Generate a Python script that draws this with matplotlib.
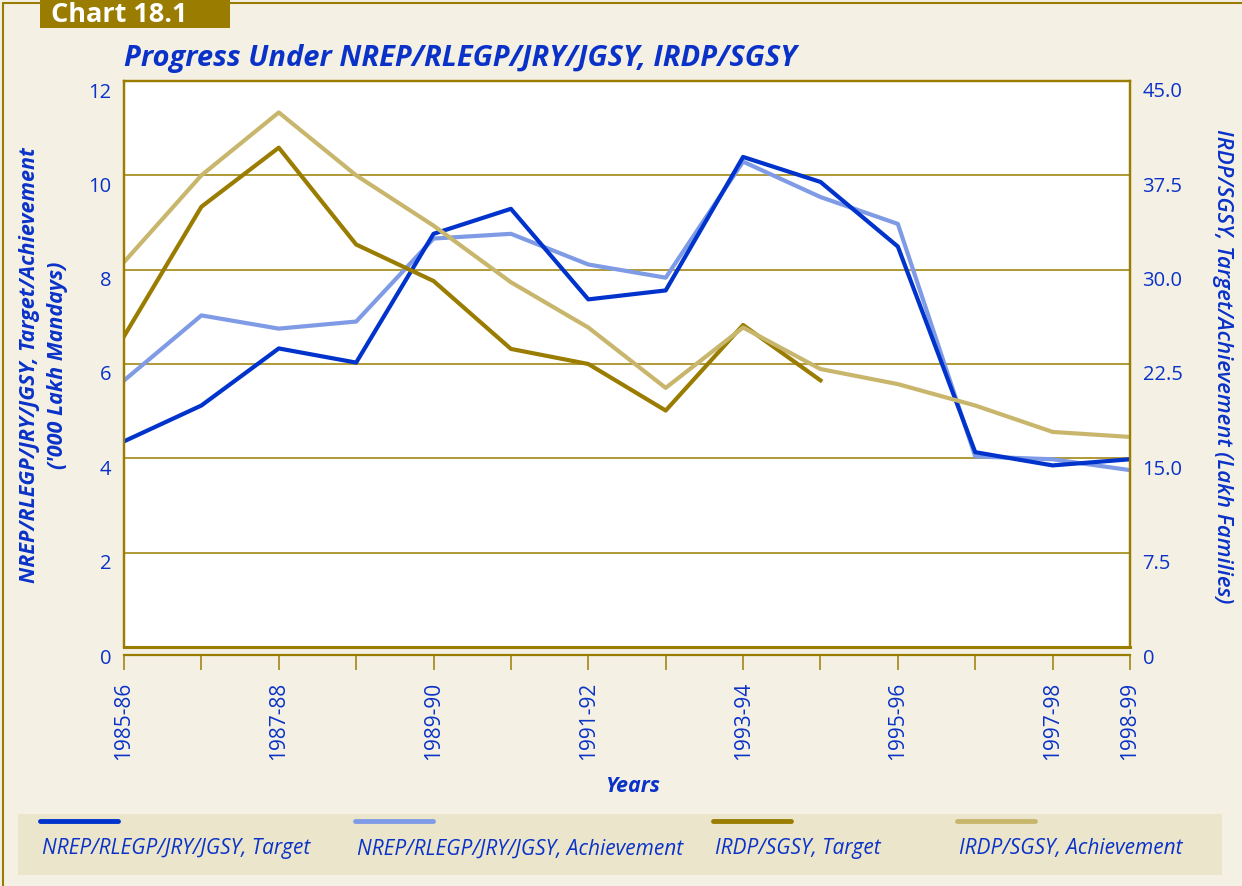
"""Chart 18.1: progress under NREP/RLEGP/JRY/JGSY and IRDP/SGSY (dual axis lines)."""

import matplotlib

matplotlib.use("Agg")
import matplotlib.pyplot as plt
from matplotlib.lines import Line2D
from matplotlib.patches import Rectangle
from matplotlib.transforms import ScaledTranslation

plt.rcParams["font.family"] = ["Open Sans", "DejaVu Sans"]

YEARS = [
    "1985-86", "1986-87", "1987-88", "1988-89", "1989-90", "1990-91", "1991-92",
    "1992-93", "1993-94", "1994-95", "1995-96", "1996-97", "1997-98", "1998-99",
]
SHOWN_YEARS = ["1985-86", "1987-88", "1989-90", "1991-92", "1993-94", "1995-96", "1997-98", "1998-99"]

# '000 lakh mandays (left axis)
nrep_target = [4.36, 5.12, 6.33, 6.03, 8.76, 9.29, 7.37, 7.56, 10.39, 9.86, 8.49, 4.13, 3.85, 3.98]
nrep_achievement = [5.65, 7.03, 6.75, 6.90, 8.66, 8.76, 8.11, 7.83, 10.29, 9.54, 8.97, 4.04, 3.98, 3.75]
# lakh families (right axis)
irdp_target = [24.7, 35.0, 39.7, 32.0, 29.1, 23.7, 22.5, 18.8, 25.6, 21.2]
irdp_achievement = [30.6, 37.5, 42.5, 37.5, 33.5, 29.0, 25.4, 20.6, 25.4, 22.1, 20.9, 19.2, 17.1, 16.7]

LEFT_TICKS = [0, 2, 4, 6, 8, 10, 12]
RIGHT_TICKS = [0, 7.5, 15.0, 22.5, 30.0, 37.5, 45.0]

SERIES_LABELS = [
    "NREP/RLEGP/JRY/JGSY, Target",
    "NREP/RLEGP/JRY/JGSY, Achievement",
    "IRDP/SGSY, Target",
    "IRDP/SGSY, Achievement",
]

DARK_BLUE = "#0033cc"
LIGHT_BLUE = "#7f9be6"
DARK_GOLD = "#9a7d00"
LIGHT_GOLD = "#c8b66c"
BG = "#f4f1e4"
LEGEND_BG = "#ebe5cc"
TEXT_BLUE = "#0a32c8"
SERIES_COLORS = [DARK_BLUE, LIGHT_BLUE, DARK_GOLD, LIGHT_GOLD]

W, H, DPI = 1242, 887, 100
fig = plt.figure(figsize=(W / DPI, H / DPI), dpi=DPI)
fig.patch.set_facecolor(BG)


def fx(px):
    return px / W


def fy(py):
    return 1 - py / H


# outer gold frame and "Chart 18.1" tab
fig.add_artist(Rectangle((fx(3), -0.1), 1.2, fy(4) + 0.1, transform=fig.transFigure,
                         facecolor="none", edgecolor=DARK_GOLD, lw=1.5))
fig.add_artist(Rectangle((fx(40), fy(29)), fx(190), 29 / H, transform=fig.transFigure,
                         facecolor=DARK_GOLD, edgecolor="none"))
fig.text(fx(51), fy(15.5), "Chart 18.1", color="white", fontsize=19.5, fontweight="bold",
         ha="left", va="center")
fig.text(fx(124), fy(58.5), "Progress Under NREP/RLEGP/JRY/JGSY, IRDP/SGSY", color=TEXT_BLUE,
         fontsize=21, fontweight="bold", style="italic", ha="left", va="center")

ax = fig.add_axes([fx(124), fy(648), fx(1130 - 124), (648 - 82) / H])
ax2 = ax.twinx()
ax.set_facecolor("white")

x = list(range(len(YEARS)))
ax.plot(x, nrep_achievement, color=LIGHT_BLUE, lw=3, label=SERIES_LABELS[1], zorder=3)
ax.plot(x, nrep_target, color=DARK_BLUE, lw=3, label=SERIES_LABELS[0], zorder=4)
ax2.plot(x[:len(irdp_target)], irdp_target, color=DARK_GOLD, lw=3, label=SERIES_LABELS[2])
ax2.plot(x, irdp_achievement, color=LIGHT_GOLD, lw=3, label=SERIES_LABELS[3])

ax.set_xlim(0, len(YEARS) - 1)
ax.set_ylim(0, 12)
ax2.set_ylim(0, 45)

ax.set_yticks(LEFT_TICKS)
ax.set_yticklabels([f"{v:g}" for v in LEFT_TICKS])
ax2.set_yticks(RIGHT_TICKS)
ax2.set_yticklabels(["0" if v == 0 else f"{v:.1f}" for v in RIGHT_TICKS])
ax.grid(True, axis="y", color=DARK_GOLD, lw=1.1, zorder=0)
ax.set_axisbelow(True)

ax.set_xticks(x)
ax.set_xticklabels([y if y in SHOWN_YEARS else "" for y in YEARS])

for a in (ax, ax2):
    for side in ("left", "right", "top"):
        a.spines[side].set_color(DARK_GOLD)
        a.spines[side].set_linewidth(1.6)
ax2.spines["bottom"].set_visible(False)
ax.spines["bottom"].set_position(("outward", 6))
ax.spines["bottom"].set_color(DARK_GOLD)
ax.spines["bottom"].set_linewidth(1.6)
ax.axhline(0, color=DARK_GOLD, lw=2.2, clip_on=False, zorder=5)

ax.tick_params(axis="x", direction="out", length=10.5, width=1.1, color=DARK_GOLD,
               labelcolor=TEXT_BLUE, labelsize=15, labelrotation=90, pad=8)
ax.tick_params(axis="y", length=0, labelcolor=TEXT_BLUE, labelsize=14.5, pad=9)
ax2.tick_params(axis="y", length=0, labelcolor=TEXT_BLUE, labelsize=14.5, pad=9)

# tick labels sit a little below their gridlines in the original
shift = ScaledTranslation(0, -8 / DPI, fig.dpi_scale_trans)
for lab in ax.get_yticklabels() + ax2.get_yticklabels():
    lab.set_transform(lab.get_transform() + shift)

fig.text(fx(30), fy(365), "NREP/RLEGP/JRY/JGSY, Target/Achievement", rotation=90,
         color=TEXT_BLUE, fontsize=15.5, fontweight="bold", style="italic", ha="center", va="center")
fig.text(fx(57), fy(365), "('000 Lakh Mandays)", rotation=90,
         color=TEXT_BLUE, fontsize=15.5, fontweight="bold", style="italic", ha="center", va="center")
fig.text(fx(1222), fy(366), "IRDP/SGSY, Target/Achievement (Lakh Families)", rotation=270,
         color=TEXT_BLUE, fontsize=16, fontweight="semibold", style="italic", ha="center", va="center")
fig.text(fx(632), fy(787), "Years", color=TEXT_BLUE, fontsize=15.5, fontweight="bold",
         style="italic", ha="center", va="center")

# legend strip: swatch above each label
fig.add_artist(Rectangle((fx(18), fy(876)), fx(1222 - 18), (876 - 815) / H,
                         transform=fig.transFigure, facecolor=LEGEND_BG, edgecolor="none"))
legend_x = [40, 355, 713, 957]
for px, lab, col in zip(legend_x, SERIES_LABELS, SERIES_COLORS):
    fig.add_artist(Line2D([fx(px), fx(px + 78)], [fy(822), fy(822)], transform=fig.transFigure,
                          color=col, lw=3.5, solid_capstyle="round"))
    fig.text(fx(px + 2), fy(849), lab, color=TEXT_BLUE, fontsize=15, style="italic",
             ha="left", va="center")

fig.savefig("out.png", dpi=DPI, facecolor=fig.get_facecolor())
